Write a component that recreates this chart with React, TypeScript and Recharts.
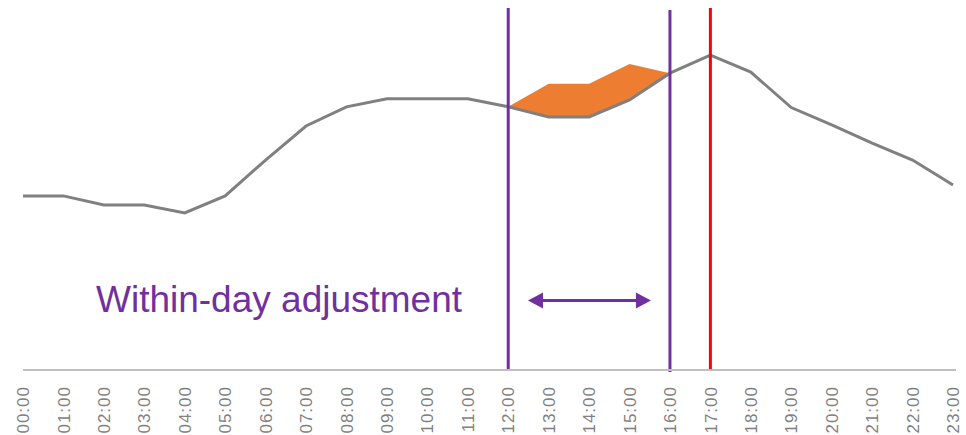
import {
  ComposedChart,
  Area,
  Line,
  XAxis,
  YAxis,
  ReferenceLine,
} from "recharts";

const hours = [
  "00:00", "01:00", "02:00", "03:00", "04:00", "05:00", "06:00", "07:00",
  "08:00", "09:00", "10:00", "11:00", "12:00", "13:00", "14:00", "15:00",
  "16:00", "17:00", "18:00", "19:00", "20:00", "21:00", "22:00", "23:00",
];

// baseline demand profile
const load = [
  48.1, 48.1, 45.6, 45.6, 43.4, 48.1, 58.0, 67.4, 72.7, 74.9, 74.9, 74.9,
  72.7, 69.9, 69.9, 74.6, 82.0, 87.0, 82.3, 72.5, 67.7, 62.7, 58.0, 51.1,
];

// upper edge of the shifted block (null outside the window)
const shiftedTop: (number | null)[] = [
  null, null, null, null, null, null, null, null, null, null, null, null,
  72.7, 79.1, 79.1, 84.5, 82.0, null, null, null, null, null, null, null,
];

const windowStart = hours.indexOf("12:00");
const windowEnd = hours.indexOf("16:00");
const peakHour = hours.indexOf("17:00");

const arrowFrom = 12.49;
const arrowTo = 15.53;
const arrowLevel = 19.2;

const PURPLE = "#7030A0";
const ORANGE = "#ED7D31";
const GREY = "#808080";

const data = hours.map((h, i) => ({
  idx: i,
  time: h,
  load: load[i],
  band: shiftedTop[i] == null ? null : [load[i], shiftedTop[i]],
}));

function HourTick({ x, y, payload }: any) {
  const ty = y + 8;
  return (
    <text
      x={x}
      y={ty}
      transform={`rotate(-90 ${x} ${ty})`}
      textAnchor="end"
      dy="0.36em"
      fontSize={17}
      letterSpacing={1}
      fontFamily="'Liberation Sans', Arial, sans-serif"
      fill="#7f7f7f"
    >
      {hours[payload.value]}
    </text>
  );
}

function DoubleArrow(props: any) {
  const { x1, y1, x2 } = props;
  const head = 15;
  const half = 8;
  return (
    <g>
      <line x1={x1 + head - 2} y1={y1} x2={x2 - head + 2} y2={y1} stroke={PURPLE} strokeWidth={3} />
      <polygon points={`${x1},${y1} ${x1 + head},${y1 - half} ${x1 + head},${y1 + half}`} fill={PURPLE} />
      <polygon points={`${x2},${y1} ${x2 - head},${y1 - half} ${x2 - head},${y1 + half}`} fill={PURPLE} />
    </g>
  );
}

export default function App() {
  return (
    <div style={{ position: "absolute", left: 0, top: 0, width: 966, height: 435, background: "#fff" }}>
      <ComposedChart
        width={966}
        height={435}
        data={data}
        margin={{ top: 8, right: 10, bottom: 0, left: 23 }}
      >
        <XAxis
          dataKey="idx"
          type="number"
          domain={[0, 23]}
          ticks={hours.map((_, i) => i)}
          interval={0}
          padding={{ left: 0, right: 3 }}
          height={65}
          tickLine={false}
          axisLine={{ stroke: "#bfbfbf", strokeWidth: 2 }}
          tick={<HourTick />}
        />
        <YAxis hide domain={[0, 100]} />
        <Area
          dataKey="band"
          stroke="none"
          fill={ORANGE}
          fillOpacity={1}
          isAnimationActive={false}
          dot={false}
          activeDot={false}
        />
        <Line
          dataKey="load"
          type="linear"
          stroke={GREY}
          strokeWidth={3}
          dot={false}
          activeDot={false}
          isAnimationActive={false}
        />
        <ReferenceLine x={windowStart} stroke={PURPLE} strokeWidth={3} />
        <ReferenceLine
          segment={[{ x: windowEnd, y: 99.45 }, { x: windowEnd, y: -0.55 }]}
          ifOverflow="visible"
          stroke={PURPLE}
          strokeWidth={3}
        />
        <ReferenceLine x={peakHour} stroke="#FF0000" strokeWidth={3} />
        <ReferenceLine
          segment={[{ x: arrowFrom, y: arrowLevel }, { x: arrowTo, y: arrowLevel }]}
          ifOverflow="visible"
          shape={DoubleArrow}
        />
      </ComposedChart>
      <svg width={966} height={435} style={{ position: "absolute", left: 0, top: 0, pointerEvents: "none" }}>
        <text
          x={96}
          y={312}
          fontSize={37}
          fontFamily="'Liberation Sans', Arial, sans-serif"
          fill={PURPLE}
        >
          Within-day adjustment
        </text>
      </svg>
    </div>
  );
}
